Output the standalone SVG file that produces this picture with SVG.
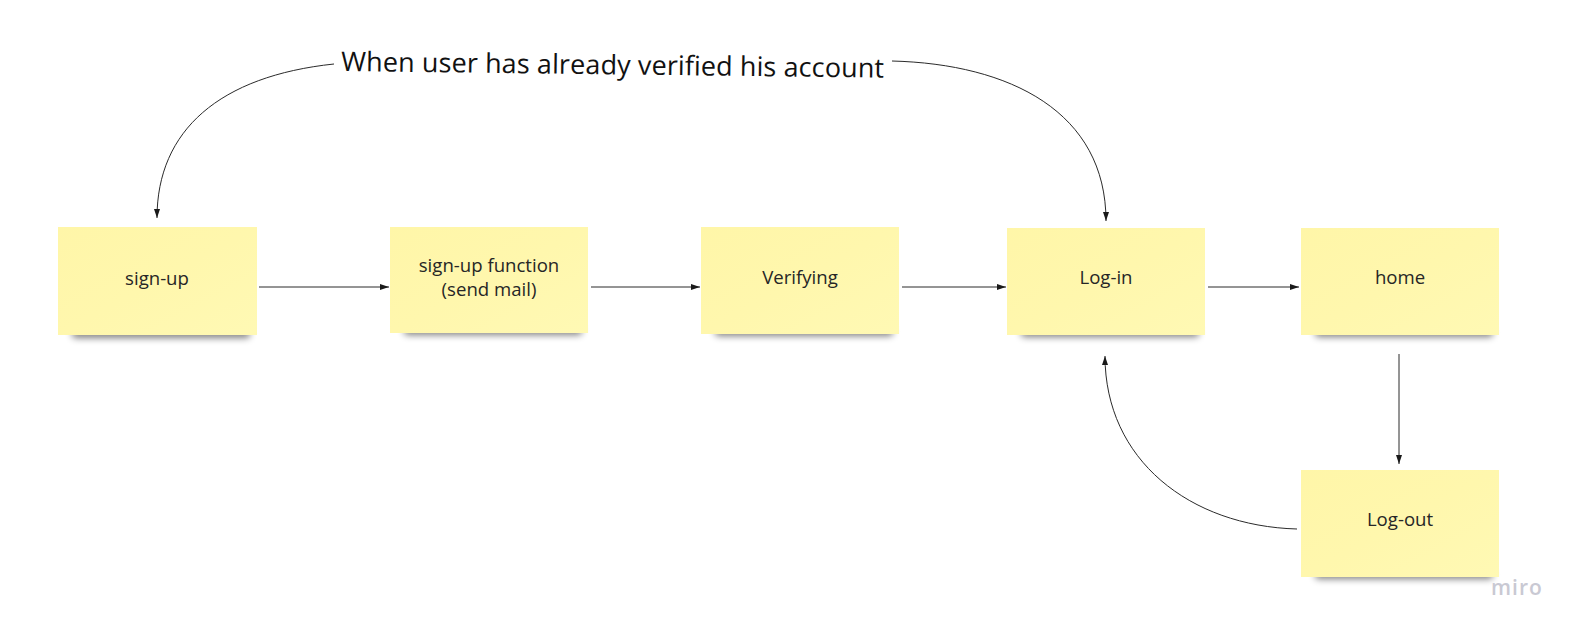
<svg xmlns="http://www.w3.org/2000/svg" width="1578" height="633" viewBox="0 0 1578 633">
  <defs>
    <linearGradient id="noteFill" x1="0" y1="0" x2="1" y2="1">
      <stop offset="0" stop-color="#fff6a8"/>
      <stop offset="0.5" stop-color="#fff7ad"/>
      <stop offset="1" stop-color="#fff9b4"/>
    </linearGradient>
    <filter id="shadowBlur" x="-20%" y="-100%" width="140%" height="300%">
      <feGaussianBlur stdDeviation="3.5"/>
    </filter>
    <marker id="arrow" viewBox="0 0 9 6" refX="9" refY="3" markerWidth="9" markerHeight="6" markerUnits="userSpaceOnUse" orient="auto">
      <path d="M0,0 L9,3 L0,6 Z" fill="#1a1a1a"/>
    </marker>
  </defs>
  <style>
    .shadow { fill: #000000; opacity: 0.5; filter: url(#shadowBlur); }
    .note { fill: url(#noteFill); }
    .label { font-family: "Open Sans", "Noto Sans", sans-serif; font-size: 18.6px; fill: #262626; text-anchor: middle; }
    .title { font-family: "Open Sans", "Noto Sans", sans-serif; font-size: 27px; fill: #111111; }
    .conn { fill: none; stroke: #2a2a2a; stroke-width: 1; marker-end: url(#arrow); }
    .logo { font-family: "Open Sans", "Noto Sans", sans-serif; font-size: 21px; font-weight: 600; fill: #c9c9d3; letter-spacing: 1px; }
  </style>
  <rect width="1578" height="633" fill="#ffffff"/>

  <g id="title">
    <text class="title" x="341" y="71" textLength="543" lengthAdjust="spacing" transform="rotate(0.7 341 71)">When user has already verified his account</text>
  </g>

  <g id="node-signup">
    <rect class="shadow" x="72" y="329" width="178" height="9" rx="4"/>
    <rect class="note" x="58" y="227" width="199" height="108"/>
    <text class="label" x="157" y="285">sign-up</text>
  </g>

  <g id="node-signup-function">
    <rect class="shadow" x="404" y="326" width="178" height="9" rx="4"/>
    <rect class="note" x="390" y="227" width="198" height="106"/>
    <text class="label" x="489" y="272">sign-up function</text>
    <text class="label" x="489" y="296">(send mail)</text>
  </g>

  <g id="node-verifying">
    <rect class="shadow" x="715" y="327" width="178" height="9" rx="4"/>
    <rect class="note" x="701" y="227" width="198" height="107"/>
    <text class="label" x="800" y="284">Verifying</text>
  </g>

  <g id="node-login">
    <rect class="shadow" x="1021" y="328" width="178" height="9" rx="4"/>
    <rect class="note" x="1007" y="228" width="198" height="107"/>
    <text class="label" x="1106" y="284">Log-in</text>
  </g>

  <g id="node-home">
    <rect class="shadow" x="1315" y="328" width="178" height="9" rx="4"/>
    <rect class="note" x="1301" y="228" width="198" height="107"/>
    <text class="label" x="1400" y="284">home</text>
  </g>

  <g id="node-logout">
    <rect class="shadow" x="1315" y="570" width="178" height="9" rx="4"/>
    <rect class="note" x="1301" y="470" width="198" height="107"/>
    <text class="label" x="1400" y="526">Log-out</text>
  </g>

  <g id="connectors">
    <line class="conn" x1="259" y1="287" x2="389" y2="287"/>
    <line class="conn" x1="591" y1="287" x2="700" y2="287"/>
    <line class="conn" x1="902" y1="287" x2="1006" y2="287"/>
    <line class="conn" x1="1208" y1="287" x2="1299" y2="287"/>
    <line class="conn" x1="1399" y1="354" x2="1399" y2="464"/>
    <path class="conn" d="M1297,529 C1190,526 1105,460 1105,356"/>
    <path class="conn" d="M334,64 C220,76 157,130 157,218"/>
    <path class="conn" d="M892,61 C1010,64 1106,112 1106,221"/>
  </g>

  <g id="logo">
    <text class="logo" x="1491" y="595">miro</text>
  </g>
</svg>
